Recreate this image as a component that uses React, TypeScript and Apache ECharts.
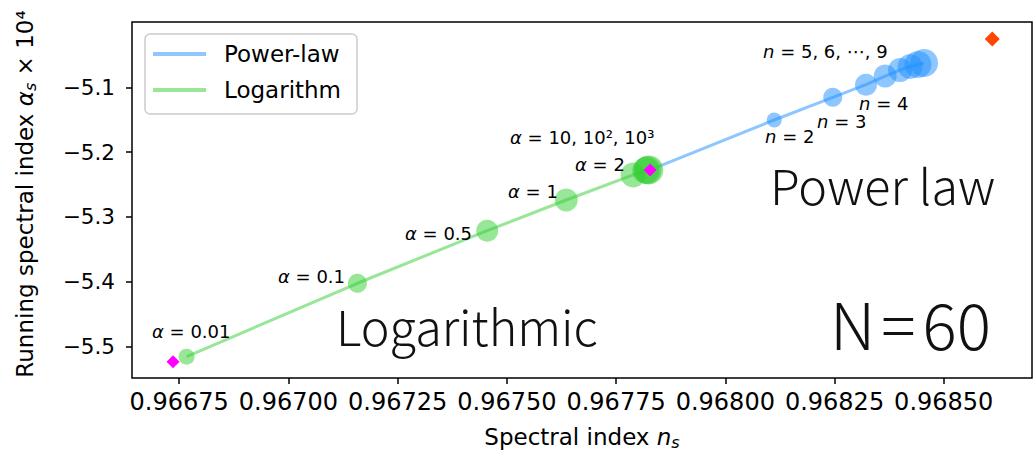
import React, { useEffect, useRef } from 'react';
import * as echarts from 'echarts';

// Logarithmic model: alpha = 0.01, 0.1, 0.5, 1, 2, 10, 10^2, 10^3
const logAlpha = ['0.01', '0.1', '0.5', '1', '2', '10', '100', '1000'];
const logNs = [0.966767, 0.967158, 0.967455, 0.967636, 0.967789, 0.967818, 0.967822, 0.967825];
const logRunning = [-5.5154, -5.4022, -5.3211, -5.2738, -5.2352, -5.2282, -5.2277, -5.2274];
const logSizes = [16, 19, 22, 23, 25, 27, 28, 29];

// Power-law model: n = 2 ... 9
const powerN = [2, 3, 4, 5, 6, 7, 8, 9];
const powerNs = [0.968112, 0.968246, 0.968322, 0.968366, 0.9684, 0.968423, 0.968441, 0.968455];
const powerRunning = [-5.1504, -5.1154, -5.096, -5.0826, -5.0733, -5.0679, -5.0648, -5.0625];
const powerSizes = [15, 19, 22, 23, 24, 25, 27, 28];

// Limiting cases (magenta) and reference point (orange)
const limitNs = [0.966736, 0.967828];
const limitRunning = [-5.5231, -5.2275];
const refNs = [0.968611];
const refRunning = [-5.0255];

// Axis ticks
const xTicks = [0.96675, 0.967, 0.96725, 0.9675, 0.96775, 0.968, 0.96825, 0.9685];
const yTicks = [-5.5, -5.4, -5.3, -5.2, -5.1];

const BLUE = 'rgba(30,144,255,0.5)';
const GREEN = 'rgba(50,205,50,0.5)';
const FONT = '"DejaVu Sans", sans-serif';
const LIGHT_FONT = '"Noto Sans CJK JP", "Noto Sans", sans-serif';

const mathRich = {
  t: { fontFamily: FONT, fontSize: 18, color: '#000' },
  i: { fontFamily: FONT, fontSize: 18, fontStyle: 'italic', color: '#000' },
};

function note(text: string, x: number, y: number) {
  return {
    type: 'text',
    x,
    y,
    z: 20,
    style: { text, rich: mathRich, align: 'left', verticalAlign: 'middle', fontFamily: FONT, fontSize: 18 },
  };
}

function bigText(text: string, x: number, y: number, size: number, rich?: any) {
  return {
    type: 'text',
    x,
    y,
    z: 20,
    style: {
      text,
      rich,
      fontFamily: LIGHT_FONT,
      fontWeight: 300,
      fontSize: size,
      fill: '#111',
      align: 'left',
      verticalAlign: 'middle',
    },
  };
}

export default function App() {
  const ref = useRef<HTMLDivElement>(null);

  useEffect(() => {
    const chart = echarts.init(ref.current!, null, { renderer: 'svg' });

    const logPoints = logNs.map((x, k) => [x, logRunning[k], logSizes[k]]);
    const powerPoints = powerNs.map((x, k) => [x, powerRunning[k], powerSizes[k]]);
    const powerLine = [[limitNs[1], limitRunning[1]], ...powerNs.map((x, k) => [x, powerRunning[k]])];
    const logLine = logNs.map((x, k) => [x, logRunning[k]]);

    const axisNameRich = {
      t: { fontFamily: FONT, fontSize: 23, color: '#000', lineHeight: 25, verticalAlign: 'top' },
      i: { fontFamily: FONT, fontSize: 23, fontStyle: 'italic', color: '#000', lineHeight: 25, verticalAlign: 'top' },
      sub: { fontFamily: FONT, fontSize: 16, fontStyle: 'italic', color: '#000', lineHeight: 16, padding: [12, 0, 0, 0], verticalAlign: 'bottom' },
    };

    const bigRich = {
      a: { fontFamily: LIGHT_FONT, fontWeight: 300, fontSize: 64, color: '#111' },
      eq: { fontFamily: LIGHT_FONT, fontWeight: 300, fontSize: 64, color: '#111', padding: [0, 7, 0, 6] },
    };

    chart.setOption({
      animation: false,
      backgroundColor: '#fff',
      grid: { left: 132, top: 22, right: 4, bottom: 76, show: true, borderColor: '#000', borderWidth: 1.5, backgroundColor: 'transparent', outerBoundsMode: 'none' },
      legend: {
        orient: 'vertical',
        left: 145,
        top: 34,
        padding: [7, 16, 11, 8],
        itemGap: 10,
        itemWidth: 53,
        itemHeight: 4,
        borderColor: '#cccccc',
        borderWidth: 1.5,
        borderRadius: 5,
        backgroundColor: 'rgba(255,255,255,0.8)',
        textStyle: { fontFamily: FONT, fontSize: 23, color: '#000', lineHeight: 26, padding: [0, 0, 0, 13] },
        data: [
          { name: 'Power-law', icon: 'rect' },
          { name: 'Logarithm', icon: 'rect' },
        ],
      },
      xAxis: {
        type: 'value',
        min: 0.966642,
        max: 0.968702,
        axisLine: { show: false },
        splitLine: { show: false },
        axisTick: { show: true, length: 6, customValues: xTicks, lineStyle: { color: '#000', width: 1.5 } },
        axisLabel: {
          customValues: xTicks,
          formatter: (v: number) => v.toFixed(5),
          fontFamily: FONT,
          fontSize: 24,
          color: '#000',
          margin: 12,
        },
      },
      yAxis: {
        type: 'value',
        min: -5.5483,
        max: -4.9993,
        axisLine: { show: false },
        splitLine: { show: false },
        axisTick: { show: true, length: 6, customValues: yTicks, lineStyle: { color: '#000', width: 1.5 } },
        axisLabel: {
          customValues: yTicks,
          formatter: (v: number) => '\u2212' + Math.abs(v).toFixed(1),
          fontFamily: FONT,
          fontSize: 21.5,
          color: '#000',
          margin: 17,
        },
      },
      series: [
        {
          name: 'Logarithm',
          type: 'line',
          data: logLine,
          symbol: 'none',
          lineStyle: { color: GREEN, width: 3 },
          itemStyle: { color: GREEN },
          z: 2,
        },
        {
          name: 'Power-law',
          type: 'line',
          data: powerLine,
          symbol: 'none',
          lineStyle: { color: BLUE, width: 3 },
          itemStyle: { color: BLUE },
          z: 2,
        },
        {
          name: 'logPoints',
          type: 'scatter',
          data: logPoints,
          symbolSize: (v: number[]) => v[2],
          itemStyle: { color: GREEN, opacity: 1 },
          z: 3,
        },
        {
          name: 'powerPoints',
          type: 'scatter',
          data: powerPoints,
          symbolSize: (v: number[]) => v[2],
          itemStyle: { color: BLUE, opacity: 1 },
          z: 3,
        },
        {
          name: 'limits',
          type: 'scatter',
          data: limitNs.map((x, k) => [x, limitRunning[k]]),
          symbol: 'diamond',
          symbolSize: 13,
          itemStyle: { color: '#ff00ff', opacity: 1 },
          z: 5,
        },
        {
          name: 'reference',
          type: 'scatter',
          data: refNs.map((x, k) => [x, refRunning[k]]),
          symbol: 'diamond',
          symbolSize: 15,
          itemStyle: { color: '#ff4500', opacity: 1 },
          z: 5,
        },
      ],
      graphic: [
        note('{i|α}{t| = ' + logAlpha[0] + '}', 152, 331),
        note('{i|α}{t| = ' + logAlpha[1] + '}', 278, 276),
        note('{i|α}{t| = ' + logAlpha[2] + '}', 405, 233),
        note('{i|α}{t| = ' + logAlpha[3] + '}', 508, 191),
        note('{i|α}{t| = ' + logAlpha[4] + '}', 575, 164),
        note('{i|α}{t| = 10, 10², 10³}', 510, 137),
        note('{i|n}{t| = ' + powerN[3] + ', ' + powerN[4] + ', ⋯, ' + powerN[7] + '}', 763, 51),
        note('{i|n}{t| = ' + powerN[2] + '}', 859, 103),
        note('{i|n}{t| = ' + powerN[1] + '}', 817, 121),
        note('{i|n}{t| = ' + powerN[0] + '}', 765, 136),
        bigText('Logarithmic', 336, 325, 48.5),
        bigText('Power law', 770, 184, 48.5),
        bigText('{a|N}{eq|=}{a|60}', 830, 322, 64, bigRich),
        {
          type: 'text',
          x: 582,
          y: 438,
          style: {
            text: '{t|Spectral index }{i|n}{sub|s}',
            rich: axisNameRich,
            align: 'center',
            verticalAlign: 'middle',
          },
        },
        {
          type: 'text',
          x: 26,
          y: 194,
          rotation: Math.PI / 2,
          style: {
            text: '{t|Running spectral index }{i|α}{sub|s}{t| × 10⁴}',
            rich: axisNameRich,
            align: 'center',
            verticalAlign: 'middle',
          },
        },
      ],
    });

    return () => chart.dispose();
  }, []);

  return (
    <div
      ref={ref}
      style={{ position: 'fixed', left: 0, top: 0, width: 1036, height: 454, background: '#fff' }}
    />
  );
}
